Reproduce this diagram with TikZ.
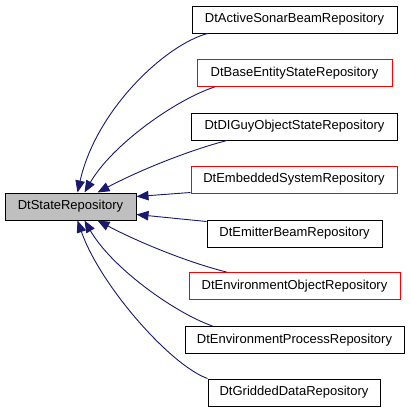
\documentclass[tikz,border=0pt]{standalone}
\usepackage{fontspec}
\setmainfont{Liberation Sans}
\usetikzlibrary{arrows.meta}
\definecolor{edgeblue}{HTML}{191970}
\definecolor{basegray}{HTML}{BFBFBF}
\begin{document}
\begin{tikzpicture}[x=1pt,y=-1pt,
  cls/.style={draw=black,line width=1pt,inner sep=0pt,minimum height=27pt,font=\fontsize{13}{15}\selectfont},
  redcls/.style={cls,draw=red},
  basecls/.style={cls,fill=basegray},
  edge/.style={draw=edgeblue,line width=0.9pt,-{Triangle[length=12pt,width=9.5pt]}}]
\useasboundingbox (0,0) rectangle (411,413);
\node[basecls,minimum width=131pt] (state) at (70.5,206.5) {DtStateRepository};
\node[cls,minimum width=205pt] (sonar) at (294.5,19.5) {DtActiveSonarBeamRepository};
\node[redcls,minimum width=195pt] (base) at (294.5,73) {DtBaseEntityStateRepository};
\node[cls,minimum width=206pt] (diguy) at (294.5,126.5) {DtDIGuyObjectStateRepository};
\node[redcls,minimum width=206pt] (emb) at (294,179.5) {DtEmbeddedSystemRepository};
\node[cls,minimum width=175pt] (emit) at (294.5,233.5) {DtEmitterBeamRepository};
\node[redcls,minimum width=211pt] (envobj) at (294.5,286) {DtEnvironmentObjectRepository};
\node[cls,minimum width=219pt] (envproc) at (294.5,340) {DtEnvironmentProcessRepository};
\node[cls,minimum width=172pt] (grid) at (294,392.5) {DtGriddedDataRepository};
\draw[edge] ([xshift=16pt]sonar.south west) .. controls (165,45) and (96,110) .. ([xshift=73pt]state.north west);
\draw[edge] ([xshift=18pt]base.south west) .. controls (175,100) and (112,145) .. ([xshift=80pt]state.north west);
\draw[edge] ([xshift=36pt]diguy.south west) .. controls (190,150) and (140,170) .. ([xshift=93pt]state.north west);
\draw[edge] ([yshift=1pt]emb.south west) -- ([yshift=-4pt]state.north east);
\draw[edge] ([yshift=-2pt]emit.north west) -- ([yshift=6pt]state.south east);
\draw[edge] ([xshift=38pt]envobj.north west) .. controls (190,263) and (140,243) .. ([xshift=93pt]state.south west);
\draw[edge] ([xshift=28pt]envproc.north west) .. controls (175,313) and (112,268) .. ([xshift=80pt]state.south west);
\draw[edge] (grid.north west) .. controls (170,365) and (100,285) .. ([xshift=73pt]state.south west);
\end{tikzpicture}
\end{document}
